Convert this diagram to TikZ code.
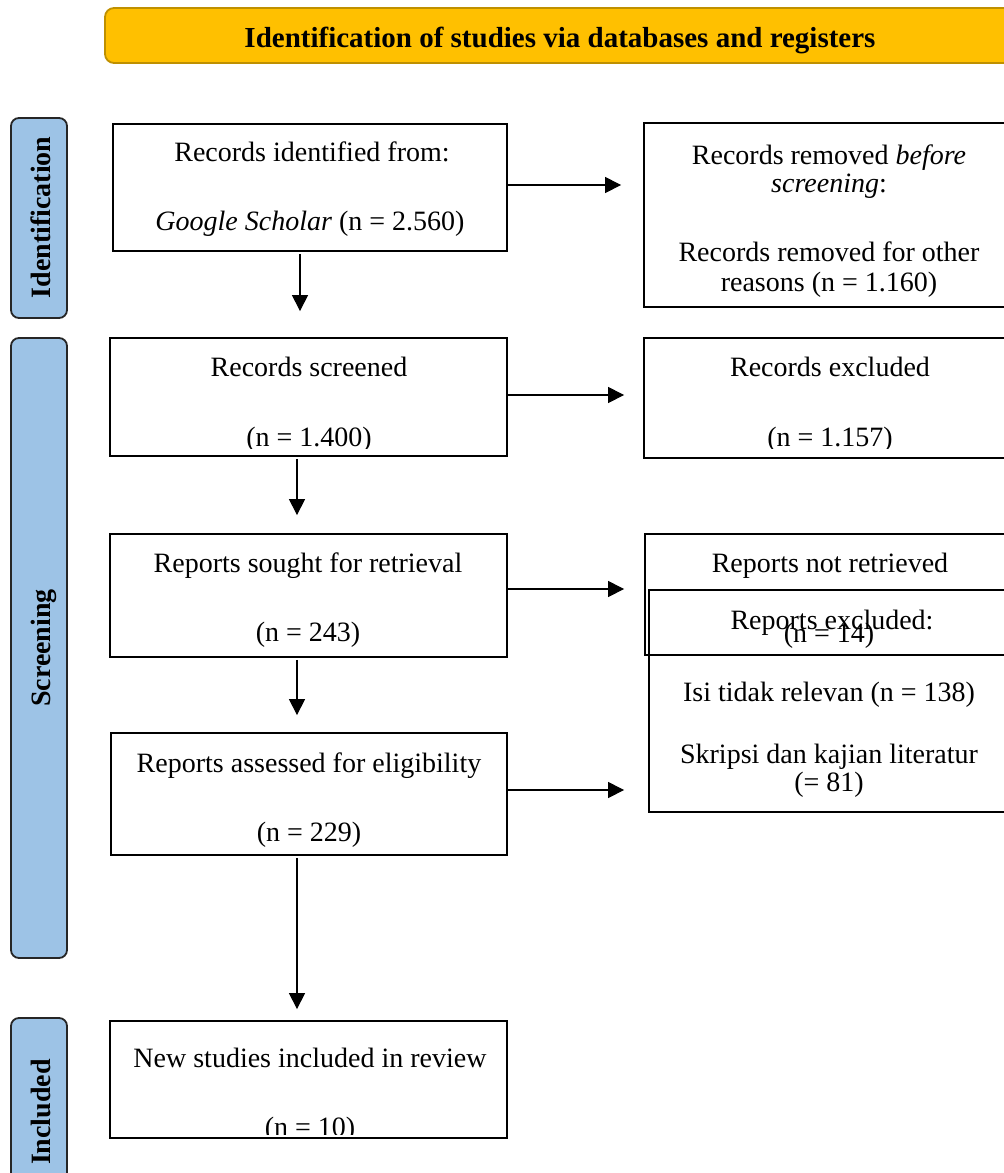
\documentclass[tikz,border=0pt]{standalone}
\usepackage{fontspec}
\setmainfont{Liberation Serif}
\usetikzlibrary{arrows.meta}
\definecolor{gold}{HTML}{FFC000}
\definecolor{goldline}{HTML}{BF9000}
\definecolor{phasefill}{HTML}{9DC3E6}
\begin{document}
\begin{tikzpicture}[x=1pt,y=-1pt,
  box/.style={draw=black, line width=1.8pt, inner sep=0pt},
  txt/.style={font=\fontsize{28}{31}\selectfont, inner sep=0pt, text height=25pt, text depth=6.6pt},
  phase/.style={draw=black!85, fill=phasefill, line width=1.8pt, rounded corners=8pt, inner sep=0pt},
  plab/.style={font=\fontsize{28}{31}\selectfont\bfseries, rotate=90, inner sep=0pt, text height=25pt, text depth=6.6pt},
  arr/.style={line width=1.1pt, -{Triangle[length=16pt,width=16pt]}}]
\useasboundingbox (0,0) rectangle (1004,1173);

% title
\node[draw=goldline, fill=gold, line width=1.8pt, rounded corners=9pt, minimum width=912, minimum height=55, inner sep=0pt] (title) at (561,35.5) {};
\node[font=\fontsize{29}{32}\selectfont\bfseries, inner sep=0pt, text height=26pt, text depth=7pt] (titlet) at (560,38) {Identification of studies via databases and registers};

% phase labels
\node[phase, minimum width=56, minimum height=200] (pid) at (39,218) {};
\node[plab] (pidt) at (41.5,217.5) {Identification};
\node[phase, minimum width=56, minimum height=620] (psc) at (39,648) {};
\node[plab] (psct) at (41.5,648) {Screening};
\node[phase, minimum width=56, minimum height=212] (pin) at (39,1124) {};
\node[plab] (pint) at (41.5,1112) {Included};

% left column boxes
\node[box, minimum width=394, minimum height=127] (b1) at (310,187.5) {};
\node[txt] (b1a) at (312,152) {Records identified from:};
\node[txt] (b1b) at (310,221) {\textit{Google Scholar} (n = 2.560)};

\node[box, minimum width=397, minimum height=118] (b2) at (308.5,397) {};
\node[txt] (b2a) at (309,367) {Records screened};
\begin{scope}
\clip (b2.west) rectangle ([yshift=8pt]b2.south east);
\node[txt] (b2b) at (309,437) {(n = 1.400)};
\end{scope}

\node[box, minimum width=397, minimum height=123] (b3) at (308.5,595.5) {};
\node[txt] (b3a) at (308,563) {Reports sought for retrieval};
\node[txt] (b3b) at (308,632) {(n = 243)};

\node[box, minimum width=396, minimum height=122] (b4) at (309,794) {};
\node[txt] (b4a) at (309,763) {Reports assessed for eligibility};
\node[txt] (b4b) at (309,832) {(n = 229)};

\node[box, minimum width=397, minimum height=117] (b5) at (308.5,1079.5) {};
\node[txt] (b5a) at (310,1058) {New studies included in review};
\begin{scope}
\clip (b5.west) rectangle ([yshift=4pt]b5.south east);
\node[txt] (b5b) at (310,1127) {(n = 10)};
\end{scope}

% right column boxes
\node[box, minimum width=366, minimum height=184] (r1) at (827,215) {};
\node[txt] (r1a) at (829,155) {Records removed \textit{before}};
\node[txt] (r1b) at (829,183) {\textit{screening}:};
\node[txt] (r1c) at (829,252) {Records removed for other};
\node[txt] (r1d) at (829,282) {reasons (n = 1.160)};

\node[box, minimum width=366, minimum height=120] (r2) at (827,398) {};
\node[txt] (r2a) at (830,367) {Records excluded};
\begin{scope}
\clip (r2.west) rectangle ([yshift=10pt]r2.south east);
\node[txt] (r2b) at (830,437) {(n = 1.157)};
\end{scope}

\node[box, minimum width=365, minimum height=121] (r3) at (827.5,594.5) {};
\node[txt] (r3a) at (830,563) {Reports not retrieved};
\node[txt] (r3b) at (829,633) {(n = 14)};

\node[box, minimum width=361, minimum height=222] (r4) at (829.5,701) {};
\node[txt] (r4a) at (832,620) {Reports excluded:};
\node[txt] (r4b) at (829,692) {Isi tidak relevan (n = 138)};
\node[txt] (r4c) at (829,754) {Skripsi dan kajian literatur};
\node[txt] (r4d) at (829,782) {(= 81)};

% horizontal arrows
\draw[arr, shorten >=22pt] ([yshift=2.5pt]b1.east) -- ([yshift=2.5pt]b1.east -| r1.west);
\draw[arr, shorten >=19pt] ([yshift=2pt]b2.east) -- ([yshift=2pt]b2.east -| r2.west);
\draw[arr, shorten >=20pt] ([yshift=6.5pt]b3.east) -- ([yshift=6.5pt]b3.east -| r3.west);
\draw[arr, shorten >=24pt] ([yshift=4pt]b4.east) -- ([yshift=4pt]b4.east -| r4.west);

% vertical arrows
\draw[arr, shorten <=2pt, shorten >=26pt] ([xshift=-10pt]b1.south) -- ([xshift=-10pt]b1.south |- b2.north);
\draw[arr, shorten <=2pt, shorten >=18pt] ([xshift=-11.5pt]b2.south) -- ([xshift=-11.5pt]b2.south |- b3.north);
\draw[arr, shorten <=2pt, shorten >=17pt] ([xshift=-11.5pt]b3.south) -- ([xshift=-11.5pt]b3.south |- b4.north);
\draw[arr, shorten <=2pt, shorten >=11pt] ([xshift=-12pt]b4.south) -- ([xshift=-12pt]b4.south |- b5.north);
\end{tikzpicture}
\end{document}
